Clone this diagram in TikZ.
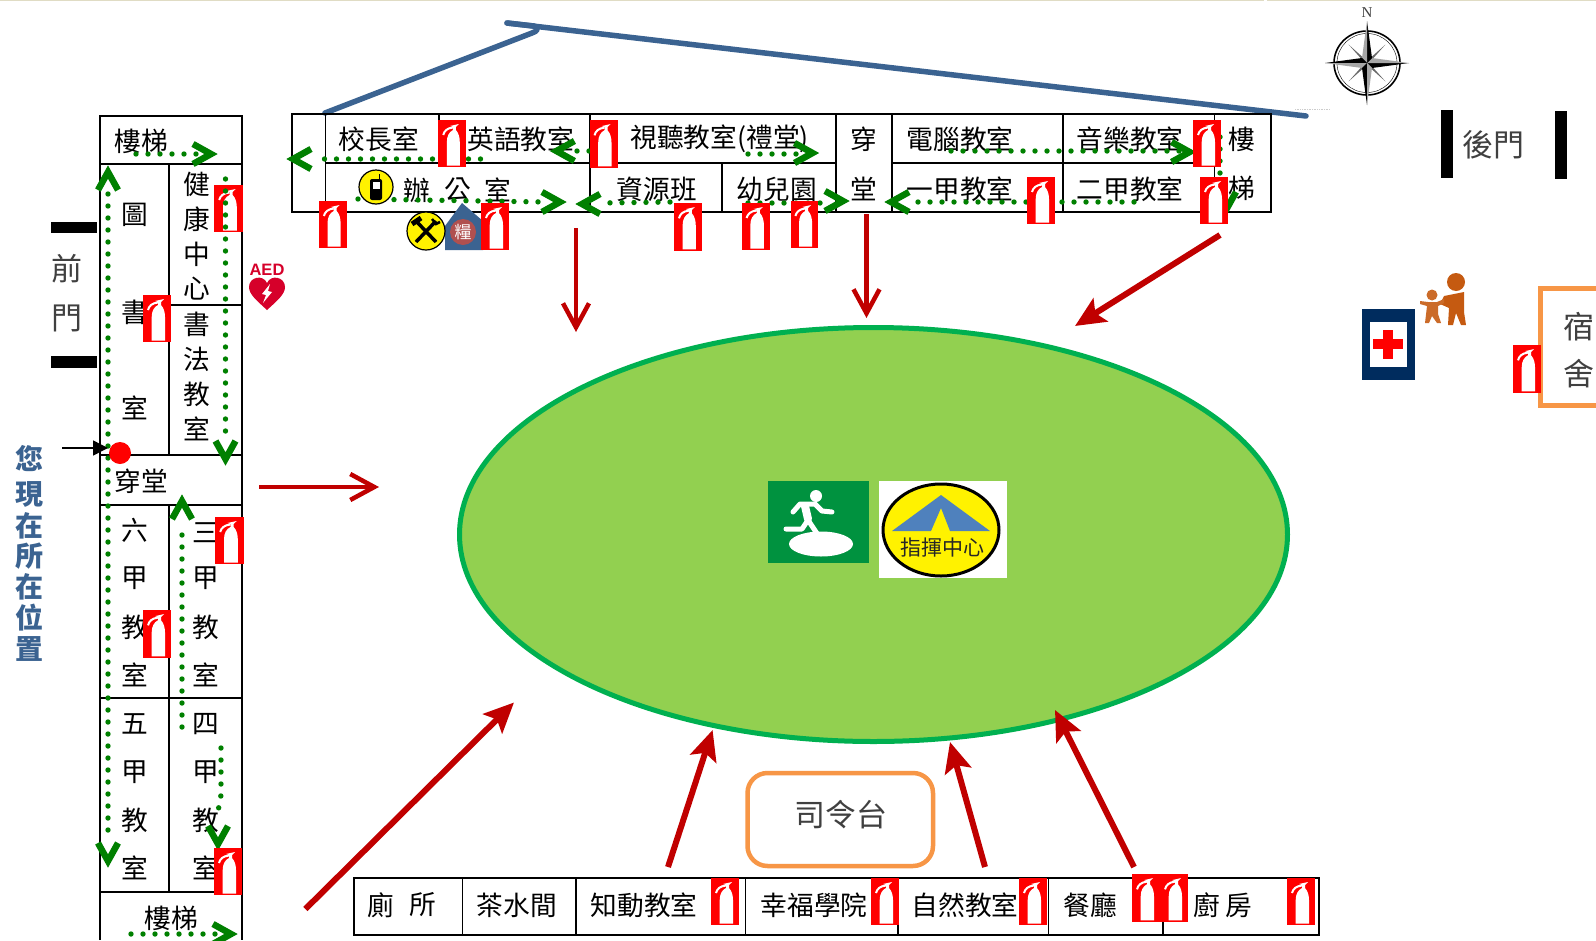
\documentclass[tikz,border=0pt]{standalone}
\usepackage{fontspec}
\setmainfont{Noto Sans CJK TC}
\newfontfamily\serifN{Liberation Serif}
\newfontfamily\sansA{Liberation Sans}
\usetikzlibrary{arrows.meta}
\definecolor{gr}{HTML}{008000}
\definecolor{rd}{HTML}{C00000}
\definecolor{bl}{HTML}{3B6391}
\definecolor{ograss}{HTML}{92D050}
\definecolor{oedge}{HTML}{00B050}
\definecolor{orng}{HTML}{F79646}
\definecolor{nvy}{HTML}{002C5E}
\definecolor{brn}{HTML}{C55A11}
\definecolor{thin}{HTML}{404040}
\definecolor{pale}{HTML}{E0DCC4}
\definecolor{aedred}{HTML}{D6002A}
\definecolor{sealred}{HTML}{B0504F}
\definecolor{exitgr}{HTML}{00923F}
\definecolor{tentbl}{HTML}{4F81BD}
\newcounter{lb}
\tikzset{
 x=1pt,y=-1pt,
 wall/.style={draw=black,line width=1.7pt},
 lab/.style={inner sep=0pt,yshift=-1pt,font=\fontsize{26.7}{26.7}\selectfont,text=black},
 thinlab/.style={inner sep=0pt,yshift=-1pt,font=\fontsize{31}{31}\selectfont,text=thin},
 gdots/.style={draw=gr,line width=5.4pt,line cap=round,dash pattern=on 0pt off 12pt},
 gchevron/.style={draw=gr,line width=6.5pt,miter limit=10},
 rline/.style={draw=rd,line width=4.5pt,-{Straight Barb[length=24pt,width=26pt,line width=4.5pt]}},
 rthick/.style={draw=rd,line width=6pt,-{Stealth[length=30pt,width=27pt,inset=6pt]}},
}
\newcommand\lbl[4][lab]{\stepcounter{lb}\node[#1] (t\arabic{lb}) at (#2,#3) {#4};}
\newcommand\gchev[3]{\draw[gchevron,shift={(#1,#2)},rotate=#3] (-22,-10)--(-4,0)--(-22,10);}
\newcommand\fireext[4]{%
 \fill[red] (#1,#2) rectangle (#3,#4);
 \begin{scope}[shift={(#1,#2)},xscale={(#3-#1)/28},yscale={(#4-#2)/47}]
 \fill[white] (8.7,45.5) -- (8.7,22) .. controls (8.7,16) and (11,12) .. (15,10) -- (15,7) -- (12,6) -- (21,4) -- (18,7) -- (18,10) .. controls (21,13) and (22,18) .. (22,22) -- (22,45.5) -- cycle;
 \draw[white,line width=2pt] (15,7.5) .. controls (9,8) and (6,11) .. (5,15);
 \end{scope}}
\begin{document}
\begin{tikzpicture}
\useasboundingbox (0,0) rectangle (1596,940);
\fill[white] (0,0) rectangle (1596,940);
\fill[pale] (0,0) rectangle (1264,1);
\fill[pale] (1267,0) rectangle (1596,1);

% ellipse
\draw[fill=ograss,draw=oedge,line width=5pt] (873.5,534.5) ellipse [x radius=414,y radius=207];

% blue roof
\draw[bl,line width=5.5pt,line cap=round,line join=round] (325,113) -- (532,33) .. controls (538,31) and (539,28) .. (534,26) -- (507,23);
\draw[bl,line width=5.5pt,line cap=round] (507,23) -- (1306,116);
\draw[gray!40,line width=.7pt,densely dotted] (1295,109) -- (1330,109);

% top building
\draw[wall] (292,114) rectangle (1271,212);
\draw[wall] (325.5,114) -- (325.5,212);
\draw[wall] (325.5,163) -- (836,163);
\draw[wall] (892,163) -- (1214.5,163);
\draw[wall] (439,114) -- (439,163);
\draw[wall] (590,114) -- (590,212);
\draw[wall] (722,163) -- (722,212);
\draw[wall] (836,114) -- (836,212);
\draw[wall] (892,114) -- (892,212);
\draw[wall] (1063,114) -- (1063,212);
\draw[wall] (1214.5,114) -- (1214.5,212);

% left building
\draw[wall] (100,940) -- (100,116) -- (242,116) -- (242,940);
\draw[wall] (100,164) -- (242,164);
\draw[wall] (169,164) -- (169,455);
\draw[wall] (169,305) -- (242,305);
\draw[wall] (100,455) -- (242,455);
\draw[wall] (100,505) -- (242,505);
\draw[wall] (169,505) -- (169,892);
\draw[wall] (100,698) -- (242,698);
\draw[wall] (100,892) -- (242,892);

% bottom building
\draw[wall] (354,878) rectangle (1319,935);
\foreach \vx in {462.4,576,745.6,898,1048.5,1163} \draw[wall] (\vx,878) -- (\vx,935);

% top labels
\lbl{378.7}{138}{校長室}
\lbl{520.7}{138}{英語教室}
\lbl{719.7}{138}{視聽教室(禮堂)}
\lbl{863.5}{138}{穿}
\lbl{863.5}{188}{堂}
\lbl{960}{138}{電腦教室}
\lbl{1130}{138}{音樂教室}
\lbl{1241.7}{138}{樓}
\lbl{1241.7}{187}{梯}
\lbl{417}{189}{辦}
\lbl{457.5}{189}{公}
\lbl{498}{189}{室}
\lbl{657}{188}{資源班}
\lbl{777}{188}{幼兒園}
\lbl{960}{188}{一甲教室}
\lbl{1130}{188}{二甲教室}

% left labels
\lbl{141}{140}{樓梯}
\lbl{135}{214}{圖}
\lbl{135}{311}{書}
\lbl{135}{407}{室}
\lbl{197}{183}{健}
\lbl{197}{218}{康}
\lbl{197}{253}{中}
\lbl{197}{288}{心}
\lbl{197}{323}{書}
\lbl{197}{358}{法}
\lbl{197}{393}{教}
\lbl{197}{428}{室}
\lbl{141}{480}{穿堂}
\lbl{135}{529}{六}
\lbl{135}{577}{甲}
\lbl{135}{626}{教}
\lbl{135}{674}{室}
\lbl{206}{532}{三}
\lbl{206}{577}{甲}
\lbl{206}{626}{教}
\lbl{206}{674}{室}
\lbl{135}{723}{五}
\lbl{135}{771}{甲}
\lbl{135}{819}{教}
\lbl{135}{867}{室}
\lbl{206}{723}{四}
\lbl{206}{771}{甲}
\lbl{206}{819}{教}
\lbl{206}{867}{室}
\lbl{171}{917}{樓梯}

% bottom labels
\lbl{381}{904}{廁}
\lbl{423}{904}{所}
\lbl{517}{904}{茶水間}
\lbl{644}{904}{知動教室}
\lbl{814}{904}{幸福學院}
\lbl{965}{904}{自然教室}
\lbl{1090}{904}{餐廳}
\lbl{1207}{904}{廚}
\lbl{1239}{904}{房}

% thin labels
\lbl[thinlab]{67}{268}{前}
\lbl[thinlab]{67}{317}{門}
\lbl[thinlab]{1493}{144}{後門}
\lbl[thinlab]{840.6}{814}{司令台}
\lbl[thinlab]{1579}{326}{宿}
\lbl[thinlab]{1579}{373}{舍}

% you are here
\foreach \cy/\ch in {458/您,493/現,525/在,555/所,586/在,617/位,648/置}
 \node[inner sep=0pt,text=bl,yshift=-1pt,font=\fontsize{28}{28}\selectfont\bfseries] at (29,\cy) {\ch};

% gates
\fill[black] (51,222) rectangle (97,233);
\fill[black] (51,356) rectangle (97,368);
\fill[black] (1441,110) rectangle (1453,178);
\fill[black] (1555,111) rectangle (1567,179);

% podium, dormitory
\draw[orng,line width=4.5pt,rounded corners=20pt] (747.5,773) rectangle (933,866);
\draw[orng,line width=5pt] (1600,288.5) -- (1540.5,288.5) -- (1540.5,405.5) -- (1600,405.5);

% red arrows
\draw[rline] (576,228) -- (576,332);
\draw[rline] (866.5,214) -- (866.5,318);
\draw[rline] (259,487) -- (379,487);
\draw[rthick] (1220,235) -- (1075,326);
\draw[rthick] (305.4,909) -- (514,702.5);
\draw[rthick] (668,867) -- (712.6,730);
\draw[rthick] (985,867) -- (950,742);
\draw[rthick] (1134,867) -- (1055,710);

% green routes
\draw[gdots] (136,154) -- (202,154); \gchev{215}{154}{0}
\draw[gdots] (108,194) -- (108,841); \gchev{108}{168}{90} \gchev{108}{865}{-90}
\draw[gdots] (182,727) -- (182,524); \gchev{182}{497}{90}
\draw[gdots] (221,748) -- (221,795) -- (217,817); \gchev{218}{848}{-90}
\draw[gdots] (131,934) -- (225,934); \gchev{235}{934}{0}
\draw[gdots] (480.5,159) -- (313,159); \gchev{289}{159}{180}
\draw[gdots] (601,151) -- (574,151); \gchev{552.4}{151}{180}
\draw[gdots] (748,154) -- (800,154); \gchev{816.5}{153}{0}
\draw[gdots] (358,199) -- (545,202); \gchev{564}{202}{0}
\draw[gdots] (670,202) -- (600,203); \gchev{578}{204}{180}
\draw[gdots] (748,203) -- (830,203); \gchev{847}{201}{0}
\draw[gdots] (1134,202) -- (908,202); \gchev{887}{202}{180}
\draw[gdots] (951,151) -- (1181,151); \gchev{1193.6}{152}{0}
\draw[gdots] (1220,137) -- (1220,176); \gchev{1226}{214}{-90}

% compass
\node[inner sep=0pt,font=\fontsize{15}{15}\selectfont\serifN,text=thin] (north) at (1367,13) {N};
\draw[black,line width=1.6pt] (1367,63) ellipse [x radius=33,y radius=32];
\draw[black,line width=.4pt] (1367,63) ellipse [x radius=30,y radius=29.5];
\foreach \ang in {45,135,225,315}
 \fill[black!60,shift={(1367,63)},rotate=\ang] (0,-1.5) -- (26,0) -- (0,1.5) -- cycle;
\foreach \ang in {0,90,180,270}{
 \fill[black,shift={(1367,63)},rotate=\ang] (0,0) -- (42,0) -- (5,5) -- cycle;
 \fill[black!35,shift={(1367,63)},rotate=\ang] (0,0) -- (42,0) -- (5,-5) -- cycle;
}

% first aid
\fill[nvy] (1362,309) rectangle (1415,380);
\fill[white] (1370,322) rectangle (1407,367);
\fill[red] (1383,330) rectangle (1393,359);
\fill[red] (1373,339) rectangle (1403,349);

% adult and child
\fill[brn] (1456,282) circle [radius=9];
\fill[brn] (1444,296) -- (1464,292) -- (1464,312) -- (1466,325) -- (1461,325) -- (1456,313) -- (1453,325) -- (1448,325) -- (1449,308) -- (1440,304) -- cycle;
\fill[brn!90!white] (1432,295) circle [radius=5.5];
\fill[brn!90!white] (1420,301) -- (1428,302) -- (1437,302) -- (1444,299) -- (1444,303) -- (1438,306) -- (1438,314) -- (1441,323) -- (1437,323) -- (1432,316) -- (1429,323) -- (1425,323) -- (1427,306) -- (1420,304) -- cycle;

% AED
\node[inner sep=0pt,font=\fontsize{16.5}{16.5}\selectfont\sansA\bfseries,text=aedred] (aed) at (267,270) {AED};
\fill[aedred] (267,310) .. controls (256,300) and (249,294) .. (249,287) .. controls (249,277) and (263,274) .. (267,283) .. controls (271,274) and (285,277) .. (285,287) .. controls (285,294) and (278,300) .. (267,310) -- cycle;
\fill[white] (270,284) -- (262,294) -- (266,295) -- (263,303) -- (272,292) -- (268,291) -- cycle;

% red dot and its pointer
\draw[black,line width=1.5pt,-{Triangle[length=15pt,width=15pt]}] (62,448) -- (108,448);
\fill[red] (120,453) circle [radius=11];

% phone icon
\draw[fill=yellow,draw=black,line width=1.2pt] (376,187) circle [radius=17];
\fill[black,rounded corners=2pt] (370,179) rectangle (382,200);
\draw[black,line width=1pt] (379,179) -- (379,174);
\fill[white] (372.5,182) rectangle (379.5,189);

% house with grain sign
\fill[bl] (462,203) -- (490,227) -- (483,227) -- (483,250) -- (445,250) -- (445,226) -- cycle;
\fill[sealred] (463,232) circle [radius=13];
\node[inner sep=0pt,text=white,font=\fontsize{17}{17}\selectfont] (grain) at (463,232) {糧};

% tools icon
\draw[fill=yellow,draw=black,line width=1.2pt] (426,231) circle [radius=19];
\draw[black,line width=3.5pt] (417,222) -- (436,242);
\draw[black,line width=3.5pt] (436,221) -- (416,242);
\draw[black,line width=5pt] (412,224) -- (421,218);
\draw[black,line width=2.5pt] (432,219) -- (436,224) -- (440,222);

% exit sign
\fill[exitgr] (768,481) rectangle (869,563);
\fill[white] (821,544) ellipse [x radius=32,y radius=12.5];
\fill[white] (816,496) circle [radius=6];
\draw[white,line width=5pt,line cap=round,line join=round] (793,512) -- (800,504) -- (815,504) -- (822,511) -- (832,512);
\draw[white,line width=8pt,line cap=round,line join=round] (805,506) -- (808,519);
\draw[white,line width=5pt,line cap=round,line join=round] (808,520) -- (802,529) -- (786,529);
\draw[white,line width=5pt,line cap=round,line join=round] (808,520) -- (820,538);

% command centre
\fill[white] (879,481) rectangle (1007,578);
\draw[fill=yellow,draw=black,line width=3pt] (941,530) ellipse [x radius=58,y radius=46];
\fill[tentbl] (941,495) -- (990,531) -- (950,531) -- (941,508) -- (931,531) -- (892,531) -- cycle;
\node[inner sep=0pt,text=black!85,font=\fontsize{21}{21}\selectfont] (cmd) at (942,548) {指揮中心};

% extinguishers
\fireext{438.4}{120}{465.6}{167}
\fireext{589.5}{120}{617.5}{168}
\fireext{319}{201}{346.5}{248}
\fireext{481}{203}{509}{250}
\fireext{674}{203}{701.7}{251}
\fireext{741.5}{203}{770}{250}
\fireext{790.5}{201}{818}{248}
\fireext{1193}{120}{1221}{167}
\fireext{1027}{177}{1055}{224}
\fireext{1200}{177}{1228}{224}
\fireext{1513}{345}{1541}{393}
\fireext{214}{185}{243}{232}
\fireext{143}{295}{171}{342}
\fireext{215}{517}{244}{564}
\fireext{143}{610}{171}{658}
\fireext{214}{848}{242}{895}
\fireext{711}{878}{739}{925}
\fireext{871}{878}{899}{925}
\fireext{1019}{878}{1047}{925}
\fireext{1132}{874}{1160}{922}
\fireext{1160}{874}{1188}{922}
\fireext{1287}{878}{1315}{925}

% route that runs over the extinguisher in the health centre
\draw[gdots] (225.5,179) -- (225.5,442); \gchev{225.5}{463}{-90}
\end{tikzpicture}
\end{document}
